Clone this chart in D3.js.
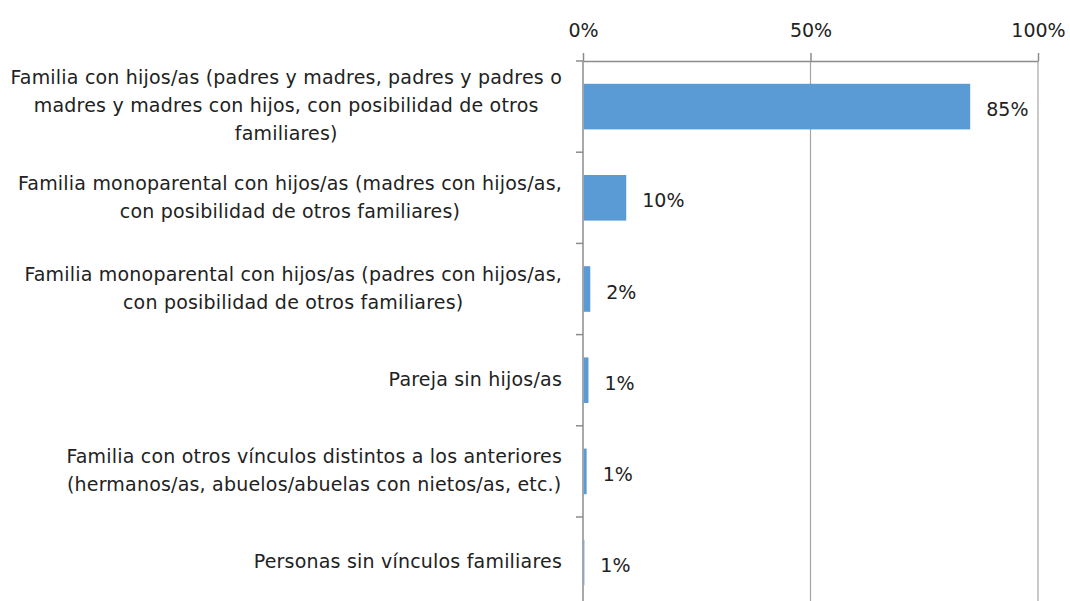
<!DOCTYPE html>
<html>
<head>
<meta charset="utf-8">
<script src="https://cdn.jsdelivr.net/npm/d3@7"></script>
<style>
  body { margin: 0; background: #fff; }
  text { font-family: "DejaVu Sans", sans-serif; fill: #222; }
</style>
</head>
<body>
<div id="chart"></div>
<script>
const categories = [
  "Familia con hijos/as (padres y madres, padres y padres o\nmadres y madres con hijos, con posibilidad de otros\nfamiliares)",
  "Familia monoparental con hijos/as (madres con hijos/as,\ncon posibilidad de otros familiares)",
  "Familia monoparental con hijos/as (padres con hijos/as,\ncon posibilidad de otros familiares)",
  "Pareja sin hijos/as",
  "Familia con otros vínculos distintos a los anteriores\n(hermanos/as, abuelos/abuelas con nietos/as, etc.)",
  "Personas sin vínculos familiares"
];
const values = [85.1, 9.5, 1.6, 1.2, 0.8, 0.3];
const valueLabels = ["85%", "10%", "2%", "1%", "1%", "1%"];
const tickValues = [0, 50, 100];

const width = 1070;
const height = 601;
const margin = { top: 61, left: 583, right: 32 };
const bandStep = 91.2;
const fontSize = "19px";

const svg = d3
  .select("#chart")
  .append("svg")
  .attr("width", width)
  .attr("height", height);

const x = d3.scaleLinear().domain([0, 100]).range([margin.left, width - margin.right]);
const y = d3
  .scaleBand()
  .domain(categories)
  .range([margin.top, margin.top + bandStep * categories.length])
  .paddingInner(0.5)
  .paddingOuter(0.25);

const grey = "#8c8c8c";

// gridlines
svg
  .append("g")
  .selectAll("line")
  .data(tickValues.slice(1))
  .join("line")
  .attr("x1", (d) => x(d))
  .attr("x2", (d) => x(d))
  .attr("y1", margin.top)
  .attr("y2", y.range()[1])
  .attr("stroke", "#a6a6a6")
  .attr("stroke-width", 1.2);

// top axis
const xAxis = svg
  .append("g")
  .attr("transform", `translate(0,${margin.top})`)
  .call(
    d3.axisTop(x)
      .tickValues(tickValues)
      .tickFormat((d) => d + "%")
      .tickSize(8)
      .tickSizeOuter(0)
  );
xAxis.select(".domain").attr("stroke", grey).attr("stroke-width", 1.5);
xAxis.selectAll(".tick line").attr("stroke", grey).attr("stroke-width", 1.5);
xAxis
  .selectAll(".tick text")
  .attr("y", -24)
  .style("font-size", fontSize)
  .style("font-family", "'DejaVu Sans', sans-serif")
  .attr("fill", "#222");

// left axis line + ticks at band boundaries
const boundaries = d3.range(categories.length + 1).map((i) => margin.top + i * bandStep);
svg
  .append("line")
  .attr("x1", x(0))
  .attr("x2", x(0))
  .attr("y1", margin.top)
  .attr("y2", y.range()[1])
  .attr("stroke", grey)
  .attr("stroke-width", 1.5);
svg
  .append("g")
  .selectAll("line")
  .data(boundaries)
  .join("line")
  .attr("x1", x(0) - 7)
  .attr("x2", x(0))
  .attr("y1", (d) => d)
  .attr("y2", (d) => d)
  .attr("stroke", grey)
  .attr("stroke-width", 1.5);

// bars
svg
  .append("g")
  .selectAll("rect")
  .data(values)
  .join("rect")
  .attr("x", x(0) + 0.75)
  .attr("y", (d, i) => y(categories[i]))
  .attr("width", (d) => Math.max(0, x(d) - x(0) - 0.75))
  .attr("height", y.bandwidth())
  .attr("fill", "#5b9bd5");

// value labels
svg
  .append("g")
  .selectAll("text")
  .data(values)
  .join("text")
  .attr("x", (d) => x(d) + 16)
  .attr("y", (d, i) => y(categories[i]) + y.bandwidth() / 2)
  .attr("dy", "0.5em")
  .style("font-size", fontSize)
  .text((d, i) => valueLabels[i]);

// category labels: block right-aligned, lines centred inside
const lineHeight = 28;
const labelRight = 562;
categories.forEach((cat, i) => {
  const lines = cat.split("\n");
  const cy = y(cat) + y.bandwidth() / 2;
  const g = svg.append("g");
  const texts = g
    .selectAll("text")
    .data(lines)
    .join("text")
    .attr("text-anchor", "middle")
    .attr("y", (d, j) => cy + (j - (lines.length - 1) / 2) * lineHeight)
    .attr("dy", "0.3em")
    .style("font-size", fontSize)
    .style("letter-spacing", "0.2px")
    .text((d) => d);
  let maxW = 0;
  texts.each(function () {
    maxW = Math.max(maxW, this.getComputedTextLength());
  });
  texts.attr("x", labelRight - maxW / 2);
});
</script>
</body>
</html>
